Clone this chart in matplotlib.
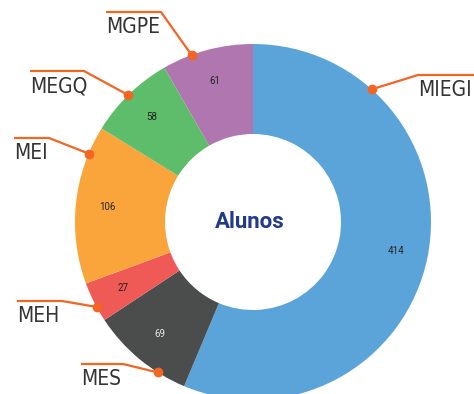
import numpy as np
import matplotlib
matplotlib.use('Agg')
import matplotlib.pyplot as plt

# data, clockwise from the top
programs = ["MIEGI", "MES", "MEH", "MEI", "MEGQ", "MGPE"]
students = [414, 69, 27, 106, 58, 61]
colors = ["#5ba4d9", "#4b4c4c", "#ef5a57", "#f9a53b", "#5dbd6a", "#b076b0"]
value_colors = ["#222222", "#e6e6e6", "#222222", "#222222", "#222222", "#222222"]
center_title = "Alunos"

# layout (pixels, y down)
W, H = 474, 394
cx, cy = 253, 222
r_out, r_in = 178, 88
accent = "#f26522"
# leader: angle of dot (deg clockwise from top), elbow point, end of horizontal
leaders = {
    "MIEGI": (41.8, (418, 75), (474, 75)),
    "MES": (-147.7, (123, 364), (81, 364)),
    "MEH": (-118.5, (62, 301), (17, 301)),
    "MEI": (-67.4, (49, 138), (14, 138)),
    "MEGQ": (-44.5, (84, 71), (30, 71)),
    "MGPE": (-20.2, (161, 12), (106, 12)),
}

fig = plt.figure(figsize=(W / 100, H / 100), dpi=100)
ax = fig.add_axes([0, 0, 1, 1])

total = sum(students)
wedges, texts, autotexts = ax.pie(
    students, colors=colors, startangle=90, counterclock=False,
    center=(cx, H - cy), radius=r_out,
    wedgeprops=dict(width=r_out - r_in, linewidth=0),
    autopct=lambda p: f"{round(p * total / 100)}", pctdistance=0.82,
    textprops=dict(fontsize=7, family="Roboto"))
for t, c in zip(autotexts, value_colors):
    t.set_color(c)

ax.text(cx - 3, H - cy, center_title, ha="center", va="center",
        fontsize=16, fontweight="bold", color="#223a8a", family="Roboto")

for name in programs:
    ang, elbow, end = leaders[name]
    a = np.deg2rad(ang)
    dx, dy = cx + r_out * np.sin(a), cy - r_out * np.cos(a)
    ax.plot([dx, elbow[0], end[0]], [H - dy, H - elbow[1], H - end[1]],
            color=accent, lw=1.6, solid_capstyle="butt", zorder=4)
    ax.plot(dx, H - dy, "o", color=accent, ms=6, zorder=5)
    x0 = min(elbow[0], end[0])
    ax.text(x0, H - end[1] - 21, name, ha="left", va="baseline",
            fontsize=15, color="#333333", family="DejaVu Sans",
            fontstretch="condensed")

ax.set_xlim(0, W)
ax.set_ylim(0, H)
ax.set_aspect("auto")
ax.axis("off")
fig.savefig("out.png", dpi=100)
